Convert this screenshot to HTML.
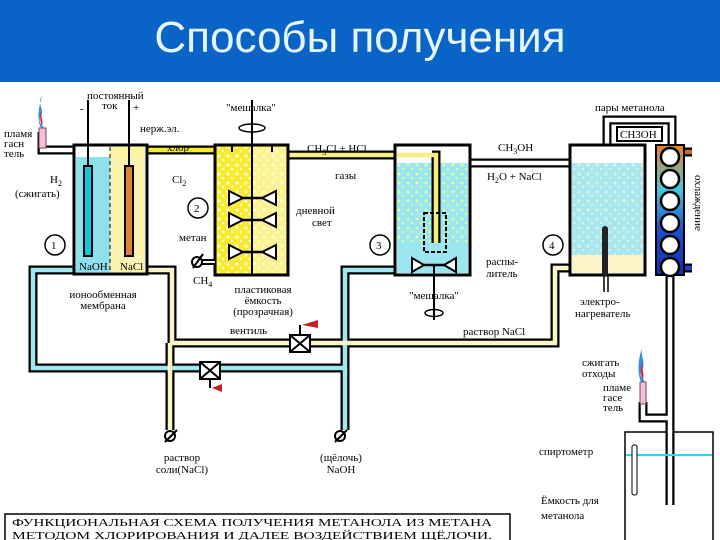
<!DOCTYPE html>
<html><head><meta charset="utf-8"><style>
html,body{margin:0;padding:0;background:#fff;}
.hd{position:absolute;left:0;top:0;width:720px;height:82px;background:#0a63c6;}
.hd div{position:absolute;left:0;width:720px;top:13px;text-align:center;color:#e6f6ff;font:44px "Liberation Sans",sans-serif;}
svg{position:absolute;left:0;top:0;}
text{font-family:"Liberation Serif","DejaVu Serif",serif;font-size:11px;fill:#000;}
</style></head><body>
<div class="hd"><div>Способы получения</div></div>
<svg width="720" height="540" viewBox="0 0 720 540">
<defs>
<pattern id="dots" width="9" height="9" patternUnits="userSpaceOnUse"><circle cx="3" cy="3" r="1.6" fill="#fffbd0"/><circle cx="7" cy="7" r="1.2" fill="#fffbd0"/></pattern>
<pattern id="dotc" width="9" height="9" patternUnits="userSpaceOnUse"><circle cx="3" cy="3" r="1.4" fill="#e8ffa0"/><circle cx="7" cy="7" r="1" fill="#f6ff80"/></pattern>
<linearGradient id="cond" x1="0" y1="0" x2="0" y2="1"><stop offset="0" stop-color="#f08020"/><stop offset="0.35" stop-color="#40c8e0"/><stop offset="0.65" stop-color="#2050d0"/><stop offset="1" stop-color="#1030b0"/></linearGradient>
</defs>
<g fill="none" stroke-linejoin="miter">
<g stroke="#000" stroke-width="9">
<path d="M75,150 H42 V132"/>
<path d="M147,150 H215"/>
<path d="M288,155 H436 V243"/>
<path d="M470,163 H572"/>
<path d="M607,148 V120 H672 V150"/>
<path d="M670,275 V505"/>
<path d="M670,418 H643 V402"/>
<path d="M75,270 H33 V368 H345 V270 H397"/>
<path d="M145,270 H172 V343 H555 V268 H572"/>
<path d="M170,343 V430"/>
<path d="M345,368 V430"/>
<path d="M684,152 H692"/><path d="M684,268 H692"/>
</g>
<g stroke-width="4.5">
<path d="M75,150 H42 V132" stroke="#fff"/>
<path d="M147,150 H215" stroke="#f7e830"/>
<path d="M288,155 H436 V243" stroke="#f7f080"/>
<path d="M470,163 H572" stroke="#fff"/>
<path d="M607,148 V120 H672 V150" stroke="#fff"/>
<path d="M670,275 V505" stroke="#fff"/>
<path d="M670,418 H643 V402" stroke="#fff"/>
<path d="M75,270 H33 V368 H345 V270 H397" stroke="#9ee8f0"/>
<path d="M145,270 H172 V343 H555 V268 H572" stroke="#fbf6c8"/>
<path d="M170,343 V430" stroke="#fbf6c8"/>
<path d="M345,368 V430" stroke="#9ee8f0"/>
<path d="M684,152 H692" stroke="#c87030"/><path d="M684,268 H692" stroke="#2040c0"/>
</g>
</g>
<rect x="75" y="146" width="71" height="127" fill="#fff"/>
<rect x="76" y="157" width="34" height="115" fill="#8fe0ee"/>
<rect x="110" y="147" width="35" height="10" fill="#fbf4a0"/>
<rect x="110" y="157" width="35" height="115" fill="#faf3b0"/>
<rect x="74" y="145" width="73" height="129" fill="none" stroke="#000" stroke-width="3"/>
<line x1="110" y1="147" x2="110" y2="272" stroke="#000" stroke-dasharray="4,3"/>
<rect x="84" y="166" width="8" height="90" fill="#10c8d8" stroke="#000" stroke-width="2"/>
<rect x="125" y="166" width="8" height="90" fill="#e08030" stroke="#000" stroke-width="2"/>
<line x1="88" y1="100" x2="88" y2="166" stroke="#000" stroke-width="2"/>
<line x1="129" y1="100" x2="129" y2="166" stroke="#000" stroke-width="2"/>
<rect x="39" y="128" width="7" height="20" fill="#f4c0d8" stroke="#804060"/>
<path d="M42,96 C36,104 46,110 40,118 C38,124 44,126 44,128 L41,128 C37,120 38,110 42,96Z" fill="#3090e0"/>
<path d="M42,108 C39,114 44,120 42,126 C40,122 39,114 42,108Z" fill="#e02040"/>
<rect x="215" y="145" width="73" height="130" fill="#f8ea30" stroke="#000" stroke-width="3"/>
<rect x="252" y="147" width="34" height="126" fill="#fbf290"/>
<rect x="217" y="147" width="69" height="126" fill="url(#dots)"/>
<line x1="252" y1="100" x2="252" y2="275" stroke="#000" stroke-width="2"/>
<line x1="232" y1="145" x2="232" y2="152" stroke="#000" stroke-width="2"/>
<line x1="272" y1="145" x2="272" y2="152" stroke="#000" stroke-width="2"/>
<g fill="#fff" stroke="#000" stroke-width="2">
<path d="M229,191 L243,198 L229,205Z"/><path d="M276,191 L262,198 L276,205Z"/>
<path d="M229,213 L243,220 L229,227Z"/><path d="M276,213 L262,220 L276,227Z"/>
<path d="M229,245 L243,252 L229,259Z"/><path d="M276,245 L262,252 L276,259Z"/>
</g>
<g stroke="#000" stroke-width="2.5"><line x1="243" y1="198" x2="262" y2="198"/><line x1="243" y1="220" x2="262" y2="220"/><line x1="243" y1="252" x2="262" y2="252"/></g>
<ellipse cx="252" cy="128" rx="13" ry="4" fill="none" stroke="#000" stroke-width="1.5"/>
<path d="M202,262 H215" stroke="#000" stroke-width="6"/><path d="M202,262 H215" stroke="#fff" stroke-width="2"/>
<circle cx="197" cy="262" r="5" fill="#fff" stroke="#000" stroke-width="2"/><line x1="193" y1="268" x2="203" y2="254" stroke="#000" stroke-width="2"/>
<rect x="395" y="145" width="75" height="130" fill="#fff" stroke="#000" stroke-width="3"/>
<rect x="397" y="163" width="71" height="110" fill="#9be6ef"/>
<rect x="397" y="163" width="71" height="80" fill="url(#dotc)"/>
<path d="M432,155 H436 V243" stroke="#000" stroke-width="9" fill="none"/>
<path d="M397,155 H436 V243" stroke="#f7f080" stroke-width="4.5" fill="none"/>
<rect x="424" y="213" width="22" height="39" fill="none" stroke="#000" stroke-width="2" stroke-dasharray="4,2"/>
<g fill="#fff" stroke="#000" stroke-width="2"><path d="M412,258 L424,265 L412,272Z"/><path d="M456,258 L444,265 L456,272Z"/></g>
<line x1="424" y1="265" x2="444" y2="265" stroke="#000" stroke-width="2.5"/>
<line x1="434" y1="265" x2="434" y2="320" stroke="#000" stroke-width="2"/>
<ellipse cx="434" cy="313" rx="9" ry="3.5" fill="none" stroke="#000" stroke-width="1.5"/>
<rect x="570" y="145" width="75" height="130" fill="#fff" stroke="#000" stroke-width="3"/>
<rect x="572" y="163" width="71" height="92" fill="#a8e6f0"/>
<rect x="572" y="163" width="71" height="92" fill="url(#dots)" opacity="0.6"/>
<rect x="572" y="255" width="71" height="18" fill="#fbf4c8"/>
<rect x="602" y="226" width="6" height="50" fill="#222" rx="3"/>
<line x1="604" y1="276" x2="604" y2="292" stroke="#000" stroke-width="1.5"/><line x1="608" y1="276" x2="608" y2="292" stroke="#000" stroke-width="1.5"/>
<rect x="617" y="127" width="45" height="14" fill="#fff" stroke="#000" stroke-width="2"/>
<rect x="656" y="145" width="28" height="130" fill="url(#cond)" stroke="#000" stroke-width="2"/>
<g fill="#fff" stroke="#000" stroke-width="2.5">
<circle cx="670" cy="157" r="9"/><circle cx="670" cy="179" r="9"/><circle cx="670" cy="201" r="9"/><circle cx="670" cy="223" r="9"/><circle cx="670" cy="245" r="9"/><circle cx="670" cy="267" r="9"/>
</g>
<rect x="640" y="382" width="6" height="22" fill="#f4c0d8" stroke="#804060"/>
<path d="M643,345 C638,355 648,362 641,372 C639,377 645,380 645,382 L641,382 C637,372 638,358 643,345Z" fill="#3090e0"/>
<path d="M643,360 C640,366 645,372 643,380 C640,375 640,366 643,360Z" fill="#e02040"/>
<g stroke="#000" stroke-width="2" fill="#fff">
<rect x="290" y="335" width="20" height="17"/><path d="M290,335 L310,352 M310,335 L290,352" fill="none"/>
<rect x="200" y="362" width="20" height="17"/><path d="M200,362 L220,379 M220,362 L200,379" fill="none"/>
</g>
<line x1="300" y1="335" x2="300" y2="325" stroke="#000" stroke-width="2"/><path d="M302,325 L318,320 L318,328Z" fill="#c02020"/>
<line x1="210" y1="379" x2="210" y2="388" stroke="#000" stroke-width="2"/><path d="M212,388 L222,384 L222,392Z" fill="#c02020"/>
<circle cx="170" cy="436" r="5" fill="#fff" stroke="#000" stroke-width="2"/><line x1="165" y1="442" x2="177" y2="430" stroke="#000" stroke-width="2"/>
<circle cx="340" cy="436" r="5" fill="#fff" stroke="#000" stroke-width="2"/><line x1="335" y1="442" x2="347" y2="430" stroke="#000" stroke-width="2"/>
<rect x="625" y="432" width="88" height="110" fill="#fff" stroke="#000" stroke-width="1.5"/>
<path d="M670,432 V505" stroke="#000" stroke-width="9"/><path d="M670,430 V505" stroke="#fff" stroke-width="4.5"/>
<line x1="626" y1="455" x2="712" y2="455" stroke="#30d8e0" stroke-width="2"/>
<rect x="632" y="445" width="5" height="50" rx="2" fill="#fff" stroke="#000"/>
<rect x="5" y="514" width="505" height="28" fill="#fff" stroke="#000" stroke-width="1.5"/>
<g fill="#000">
<text x="87" y="99" font-size="10">постоянный</text><text x="102" y="109" font-size="10">ток</text>
<text x="80" y="112">-</text><text x="133" y="111">+</text>
<text x="140" y="132">нерж.эл.</text>
<text x="167" y="151" font-size="12">хлор</text>
<text x="226" y="111" font-size="12">"мешалка"</text>
<text x="307" y="152" font-size="12">CH<tspan font-size="8" dy="3">3</tspan><tspan dy="-3">Cl + HCl</tspan></text>
<text x="335" y="179">газы</text>
<text x="172" y="183" font-size="12">Cl<tspan font-size="8" dy="3">2</tspan></text>
<text x="50" y="183" font-size="12">H<tspan font-size="8" dy="3">2</tspan></text>
<text x="15" y="197" font-size="11">(сжигать)</text>
<text x="4" y="137" font-size="8">пламя</text><text x="4" y="147" font-size="8">гасн</text><text x="4" y="157" font-size="8">тель</text>
<text x="296" y="214">дневной</text><text x="312" y="226">свет</text>
<text x="179" y="241">метан</text>
<text x="193" y="284" font-size="12">CH<tspan font-size="8" dy="3">4</tspan></text>
<text x="79" y="270" font-size="8">NaOH</text><text x="120" y="270" font-size="8">NaCl</text>
<text x="103" y="298" text-anchor="middle">ионообменная</text><text x="103" y="309" text-anchor="middle">мембрана</text>
<text x="263" y="293" text-anchor="middle">пластиковая</text><text x="263" y="304" text-anchor="middle">ёмкость</text><text x="263" y="315" text-anchor="middle">(прозрачная)</text>
<text x="498" y="151" font-size="12">CH<tspan font-size="8" dy="3">3</tspan><tspan dy="-3">OH</tspan></text>
<text x="487" y="180" font-size="12">H<tspan font-size="8" dy="3">2</tspan><tspan dy="-3">O + NaCl</tspan></text>
<text x="486" y="265">распы-</text><text x="486" y="277">литель</text>
<text x="434" y="299" text-anchor="middle">"мешалка"</text>
<text x="595" y="111">пары метанола</text>
<text x="620" y="138">CH3OH</text>
<text x="580" y="305">электро-</text><text x="575" y="317">нагреватель</text>
<text x="463" y="335">раствор NaCl</text>
<text x="230" y="334">вентиль</text>
<text x="582" y="366">сжигать</text><text x="582" y="377">отходы</text>
<text x="603" y="391" font-size="8">пламе</text><text x="603" y="401" font-size="8">гасе</text><text x="603" y="411" font-size="8">тель</text>
<text x="539" y="455">спиртометр</text>
<text x="541" y="504">Ёмкость для</text><text x="541" y="519">метанола</text>
<text x="182" y="461" text-anchor="middle">раствор</text><text x="182" y="473" text-anchor="middle">соли(NaCl)</text>
<text x="341" y="461" text-anchor="middle">(щёлочь)</text><text x="341" y="473" text-anchor="middle">NaOH</text>
<text x="12" y="526" font-size="13" textLength="480" lengthAdjust="spacingAndGlyphs">ФУНКЦИОНАЛЬНАЯ СХЕМА ПОЛУЧЕНИЯ МЕТАНОЛА ИЗ МЕТАНА</text>
<text x="12" y="539" font-size="13" textLength="480" lengthAdjust="spacingAndGlyphs">МЕТОДОМ ХЛОРИРОВАНИЯ И ДАЛЕЕ ВОЗДЕЙСТВИЕМ ЩЁЛОЧИ.</text>
<text x="695" y="175" font-size="11" transform="rotate(90 695 175)">охлаждение</text>
</g>
<g fill="#fff" stroke="#000" stroke-width="1.5">
<circle cx="198" cy="208" r="10"/><circle cx="55" cy="245" r="10"/><circle cx="380" cy="245" r="10"/><circle cx="553" cy="245" r="10"/>
</g>
<g font-size="12"><text x="194" y="212">2</text><text x="51" y="249">1</text><text x="376" y="249">3</text><text x="549" y="249">4</text></g>
</svg>
</body></html>
